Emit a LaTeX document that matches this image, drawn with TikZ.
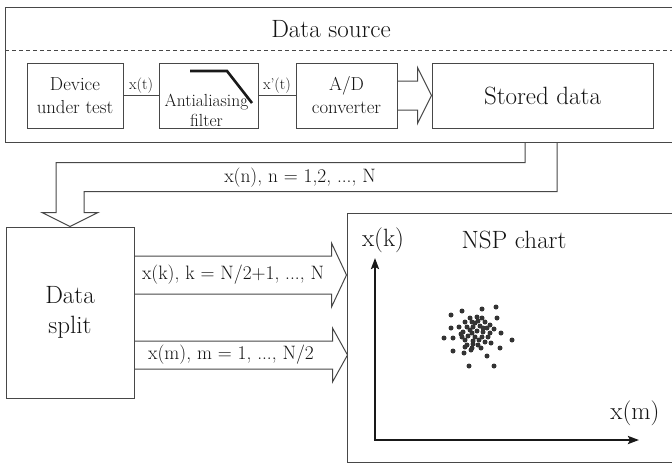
\documentclass[tikz,border=0pt]{standalone}
\usetikzlibrary{arrows.meta}
\newcommand\fsTitle{\fontsize{25}{30}\selectfont}
\newcommand\fsBox{\fontsize{18.8}{23}\selectfont}
\newcommand\fsFilt{\fontsize{17.5}{19.5}\selectfont}
\newcommand\fsSig{\fontsize{19.4}{23}\selectfont}
\newcommand\fsSmall{\fontsize{15.5}{18}\selectfont}
\tikzset{
  ln/.style={draw=black!72, line width=1pt},
  blk/.style={ln, rectangle, inner sep=0pt, align=center, text=black!92},
  lbl/.style={inner sep=1pt, text=black!92, align=center},
  thk/.style={draw=black!90, line width=2.6pt},
  dot/.style={fill=black!80},
}
\begin{document}
\begin{tikzpicture}[x=1pt,y=-1pt]
\useasboundingbox (0,0) rectangle (672,464);
\clip (0,0) rectangle (672,464);

% Data source container
\node[blk, minimum width=675, minimum height=135, anchor=north west] (src) at (5,7) {};
\node[lbl, font=\fsTitle] (srct) at (331,29) {Data source};
\draw[ln, dash pattern=on 4pt off 3pt] ([yshift=-43pt]src.north west) -- ([yshift=-43pt]src.north east);

% inner blocks
\node[blk, minimum width=96, minimum height=65, font=\fsBox] (dut) at (75,95.5) {Device\\under test};
\node[blk, minimum width=99, minimum height=65] (aaf) at (208.5,95.5) {};
\node[lbl, font=\fsFilt] (aaft) at (206.5,110.5) {Antialiasing\\filter};
\draw[thk] (190,71) coordinate (f1) -- (227,71) coordinate (f2) -- (252,103) coordinate (f3);
\node[blk, minimum width=101, minimum height=65, font=\fsBox] (adc) at (346.5,95.5) {A/D\\converter};
\node[blk, minimum width=221, minimum height=65, font=\fsTitle] (sto) at (542.5,95.5) {Stored data};

\draw[ln] (dut.east) -- node[lbl, above, yshift=1pt, font=\fsSmall] (xt) {x(t)} (aaf.west);
\draw[ln] (aaf.east) -- node[lbl, above, yshift=1pt, font=\fsSmall] (xpt) {x'(t)} (adc.west);

% hollow arrow A/D -> stored
\draw[ln, line join=miter] ([yshift=14.5pt]adc.east) -- ([xshift=-14pt,yshift=14.5pt]sto.west)
  -- ([xshift=-14pt,yshift=28pt]sto.west) -- (sto.west)
  -- ([xshift=-14pt,yshift=-28pt]sto.west) -- ([xshift=-14pt,yshift=-14.5pt]sto.west)
  -- ([yshift=-14.5pt]adc.east);

% Data split
\node[blk, minimum width=128, minimum height=171, font=\fsTitle] (split) at (70,312.5) {Data\\split};

% big hollow arrow from data source to data split
\coordinate (bA) at (525,0 |- src.south);
\coordinate (bB) at (557,0 |- src.south);
\draw[ln, line join=miter] (bA) |- ([xshift=-14pt,yshift=64pt]split.north)
  -- ([xshift=-14pt,yshift=14pt]split.north) -- ([xshift=-28pt,yshift=14pt]split.north)
  -- (split.north) -- ([xshift=28pt,yshift=14pt]split.north)
  -- ([xshift=14pt,yshift=14pt]split.north) -- ([xshift=14pt,yshift=35pt]split.north)
  -| (bB);
\node[lbl, font=\fsSig] (xn) at (300,178) {x(n), n = 1,2, ..., N};

% NSP chart
\node[blk, minimum width=333, minimum height=249] (nsp) at (513.5,337.5) {};
\node[lbl, font=\fsTitle] (nspt) at (514,240) {NSP chart};

% arrows data split -> chart
\coordinate (ks) at (split.east |- 0,275);
\coordinate (ke) at (nsp.west |- 0,275);
\draw[ln, line join=miter] ([yshift=19pt]ks) -- ([xshift=-15pt,yshift=19pt]ke)
  -- ([xshift=-15pt,yshift=32pt]ke) -- (ke)
  -- ([xshift=-15pt,yshift=-32pt]ke) -- ([xshift=-15pt,yshift=-19pt]ke)
  -- ([yshift=-19pt]ks);
\node[lbl, font=\fsSig] (xk) at (233,275) {x(k), k = N/2+1, ..., N};

\coordinate (ms) at (split.east |- 0,355);
\coordinate (me) at ([xshift=1pt]nsp.west |- 0,355);
\draw[ln, line join=miter] ([yshift=14pt]ms) -- ([xshift=-15pt,yshift=14pt]me)
  -- ([xshift=-15pt,yshift=27pt]me) -- (me)
  -- ([xshift=-15pt,yshift=-27pt]me) -- ([xshift=-15pt,yshift=-14pt]me)
  -- ([yshift=-14pt]ms);
\node[lbl, font=\fsSig] (xm) at (231,355) {x(m), m = 1, ..., N/2};

% axes
\coordinate (o) at (375,440);
\coordinate (ytip) at (375,258);
\coordinate (xtip) at (639,440);
\draw[thk, line width=2.4pt, -{Stealth[length=11pt,width=8pt,inset=2pt]}] (o) -- (ytip);
\draw[thk, line width=2.4pt, -{Stealth[length=11pt,width=8pt,inset=2pt]}] ([xshift=-1.2pt]o) -- (xtip);
\node[lbl, font=\fsTitle] (xkl) at (383,240) {x(k)};
\node[lbl, font=\fsTitle] (xml) at (635,413) {x(m)};

% scatter
\foreach \p in {(451,315),(462,311),(482,309),(496,307),(497,318),(470,318),(477,317),
  (482,318),(465,322),(472,322),(478,321),(485,322),(490,325),(451,328),(459,327),
  (467,327),(473,327),(480,326),(487,328),(494,329),(463,332),(470,330),(477,331),
  (483,332),(490,333),(501,333),(444,338),(453,338),(462,337),(468,336),(475,337),
  (482,337),(488,337),(465,340),(473,341),(479,340),(485,342),(512,340),(467,345),
  (473,344),(478,345),(491,343),(472,348),(465,347),(481,348),(500,348),(453,351),
  (464,353),(471,350),(487,356),(469,366),(494,366),(461,334),(472,333),(483,328),
  (475,323)}
  \fill[dot] \p circle (2.5pt);
\end{tikzpicture}
\end{document}
